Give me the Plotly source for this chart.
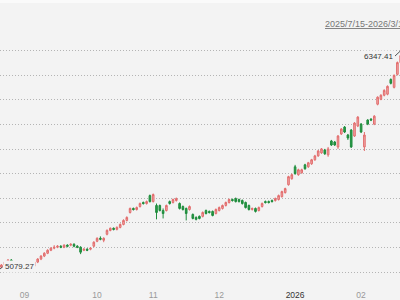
import plotly.graph_objects as go

# ---------------- data ----------------
dates = [
    # 2025-08
    "2025-08-18", "2025-08-19", "2025-08-20", "2025-08-21", "2025-08-22",
    "2025-08-25", "2025-08-26", "2025-08-27", "2025-08-28", "2025-08-29",
    # 2025-09
    "2025-09-01", "2025-09-02", "2025-09-03", "2025-09-04", "2025-09-05",
    "2025-09-08", "2025-09-09", "2025-09-10", "2025-09-11", "2025-09-12",
    "2025-09-15", "2025-09-16", "2025-09-17", "2025-09-18", "2025-09-19",
    "2025-09-22", "2025-09-23", "2025-09-24", "2025-09-25", "2025-09-26",
    "2025-09-29", "2025-09-30",
    # 2025-10
    "2025-10-09", "2025-10-10", "2025-10-13", "2025-10-14", "2025-10-15",
    "2025-10-16", "2025-10-17", "2025-10-20", "2025-10-21", "2025-10-22",
    "2025-10-23", "2025-10-24", "2025-10-27", "2025-10-28", "2025-10-29",
    "2025-10-30", "2025-10-31",
    # 2025-11
    "2025-11-03", "2025-11-04", "2025-11-05", "2025-11-06", "2025-11-07",
    "2025-11-10", "2025-11-11", "2025-11-12", "2025-11-13", "2025-11-14",
    "2025-11-17", "2025-11-18", "2025-11-19", "2025-11-20", "2025-11-21",
    "2025-11-24", "2025-11-25", "2025-11-26", "2025-11-27", "2025-11-28",
    # 2025-12
    "2025-12-01", "2025-12-02", "2025-12-03", "2025-12-04", "2025-12-05",
    "2025-12-08", "2025-12-09", "2025-12-10", "2025-12-11", "2025-12-12",
    "2025-12-15", "2025-12-16", "2025-12-17", "2025-12-18", "2025-12-19",
    "2025-12-22", "2025-12-23", "2025-12-24", "2025-12-25", "2025-12-26",
    "2025-12-29", "2025-12-30", "2025-12-31",
    # 2026-01
    "2026-01-05", "2026-01-06", "2026-01-07", "2026-01-08", "2026-01-09",
    "2026-01-12", "2026-01-13", "2026-01-14", "2026-01-15", "2026-01-16",
    "2026-01-19", "2026-01-20", "2026-01-21", "2026-01-22", "2026-01-23",
    "2026-01-26", "2026-01-27", "2026-01-28", "2026-01-29", "2026-01-30",
    # 2026-02
    "2026-02-02", "2026-02-03", "2026-02-04", "2026-02-05", "2026-02-06",
    "2026-02-09", "2026-02-10", "2026-02-11", "2026-02-12", "2026-02-13",
    "2026-02-24", "2026-02-25", "2026-02-26", "2026-02-27",
    # 2026-03
    "2026-03-02", "2026-03-03", "2026-03-04", "2026-03-05", "2026-03-06",
    "2026-03-09", "2026-03-10", "2026-03-11", "2026-03-12", "2026-03-13",
]

opens = [
    5121, 5104, 5093, 5098, 5110, 5127, 5138, 5127, 5104, 5121,
    5115, 5121, 5104, 5104, 5127, 5144, 5161, 5177, 5194, 5206, 5211, 5217,
    5211, 5223, 5223, 5228, 5217, 5211, 5194, 5200, 5200, 5217,
    5245, 5262, 5251, 5285, 5307, 5319, 5313, 5324, 5341, 5364, 5409, 5432,
    5426, 5443, 5466, 5460, 5505,
    5471, 5449, 5449, 5420, 5420, 5471, 5466, 5477, 5460, 5443, 5432, 5426,
    5398, 5381, 5387, 5387, 5420, 5415, 5415, 5403,
    5420, 5432, 5449, 5466, 5483, 5488, 5483, 5477, 5466, 5449, 5426, 5432,
    5420, 5443, 5471, 5471, 5477, 5477, 5483, 5499, 5522, 5567, 5601,
    5669, 5624, 5635, 5680, 5669, 5686, 5709, 5731, 5748, 5765, 5737, 5816,
    5810, 5782, 5856, 5895, 5850, 5878, 5844, 5901,
    5912, 5782, 5935, 5940, 5912, 6025, 6053, 6076, 6082, 6166, 6121, 6195,
    6262, 6302,
    6330, 6291, 6268, 6279, 6296, 6268, 6245, 6262, 6279, 6257,
]

highs = [
    5127, 5110, 5110, 5115, 5132, 5144, 5144, 5132, 5127, 5127,
    5127, 5127, 5115, 5132, 5149, 5166, 5183, 5200, 5211, 5223, 5223, 5223,
    5228, 5228, 5234, 5234, 5223, 5217, 5206, 5206, 5211, 5245,
    5268, 5273, 5268, 5313, 5324, 5324, 5330, 5347, 5370, 5387, 5437, 5437,
    5443, 5466, 5471, 5477, 5511,
    5517, 5460, 5454, 5432, 5454, 5477, 5488, 5494, 5466, 5449, 5437, 5449,
    5403, 5387, 5392, 5415, 5426, 5420, 5420, 5432,
    5443, 5454, 5471, 5488, 5488, 5494, 5488, 5483, 5471, 5454, 5437, 5437,
    5443, 5466, 5477, 5477, 5483, 5494, 5511, 5533, 5550, 5618, 5630,
    5680, 5658, 5658, 5686, 5697, 5714, 5737, 5765, 5776, 5771, 5782, 5822,
    5816, 5850, 5889, 5901, 5856, 5884, 5923, 5957,
    5918, 5867, 5940, 5946, 5963, 6070, 6082, 6110, 6132, 6172, 6195, 6268,
    6308, 6347.41,
    6336, 6302, 6291, 6308, 6308, 6279, 6268, 6291, 6285, 6274,
]

lows = [
    5093, 5087, 5079.27, 5093, 5104, 5121, 5121, 5098, 5098, 5110,
    5110, 5098, 5093, 5098, 5121, 5138, 5155, 5172, 5189, 5200, 5206, 5206,
    5206, 5211, 5217, 5211, 5206, 5172, 5189, 5189, 5194, 5211,
    5240, 5251, 5240, 5279, 5302, 5307, 5307, 5319, 5336, 5358, 5403, 5420,
    5420, 5437, 5454, 5454, 5466,
    5466, 5370, 5415, 5375, 5415, 5454, 5460, 5471, 5426, 5420, 5364, 5420,
    5370, 5364, 5370, 5381, 5398, 5403, 5387, 5398,
    5415, 5426, 5443, 5460, 5471, 5466, 5466, 5454, 5432, 5420, 5420, 5409,
    5415, 5437, 5460, 5460, 5466, 5471, 5477, 5494, 5517, 5562, 5596,
    5624, 5618, 5630, 5652, 5663, 5680, 5703, 5726, 5743, 5737, 5726, 5788,
    5788, 5771, 5850, 5861, 5822, 5776, 5839, 5895,
    5861, 5759, 5906, 5929, 5906, 6019, 6048, 6070, 6076, 6138, 6115, 6189,
    6257, 6296,
    6285, 6257, 6245, 6274, 6268, 6234, 6240, 6257, 6245, 6251,
]

closes = [
    5104, 5093, 5098, 5110, 5127, 5138, 5127, 5104, 5121, 5115,
    5121, 5104, 5110, 5127, 5144, 5161, 5177, 5194, 5206, 5211, 5217, 5211,
    5223, 5217, 5228, 5217, 5211, 5183, 5200, 5194, 5206, 5240,
    5262, 5257, 5262, 5307, 5319, 5313, 5324, 5341, 5364, 5381, 5432, 5426,
    5437, 5460, 5460, 5471, 5471,
    5511, 5409, 5420, 5403, 5449, 5460, 5483, 5488, 5432, 5426, 5403, 5443,
    5375, 5370, 5375, 5409, 5403, 5409, 5392, 5426,
    5437, 5449, 5466, 5483, 5477, 5471, 5471, 5460, 5437, 5426, 5432, 5415,
    5437, 5460, 5466, 5466, 5471, 5488, 5505, 5528, 5545, 5613, 5624,
    5630, 5652, 5652, 5658, 5692, 5709, 5731, 5759, 5771, 5743, 5771, 5793,
    5793, 5844, 5884, 5867, 5833, 5782, 5918, 5952,
    5867, 5850, 5912, 5935, 5957, 6065, 6076, 6104, 6127, 6144, 6189, 6262,
    6302, 6330,
    6291, 6268, 6279, 6296, 6274, 6245, 6262, 6279, 6257, 6268,
]

month_ticks = ["2025-09-01", "2025-10-09", "2025-11-03", "2025-12-01", "2026-01-05", "2026-02-02"]
month_labels = ["09", "10", "11", "12", "<span style='color:#333'>2026</span>", "02"]
grid_values = [5070, 5210, 5350, 5490, 5630, 5770, 5910, 6050, 6190, 6330]
range_title = "2025/7/15-2026/3/13"

# ---------------- layout constants ----------------
W, H = 400, 300
MB = 20
PLOT_H = H - MB
PX_PER_DAY = 3.3
FIRST_TICK_PX = 24.5
Y_TOP = 6618.2
PTS_PER_PX = 5.65
BG = "#f3f3f3"

idx = list(range(len(dates)))
pos = {d: i for i, d in enumerate(dates)}
sep_idx = pos[month_ticks[0]]
x0 = sep_idx - FIRST_TICK_PX / PX_PER_DAY
x1 = x0 + W / PX_PER_DAY
y1 = Y_TOP
y0 = Y_TOP - PLOT_H * PTS_PER_PX

fig = go.Figure(go.Candlestick(
    x=idx, open=opens, high=highs, low=lows, close=closes,
    text=dates, hoverinfo="skip",
    increasing=dict(line=dict(color="#e26d6d", width=1), fillcolor="#f0a8a8"),
    decreasing=dict(line=dict(color="#1e8c3c", width=1), fillcolor="#2a9a48"),
    whiskerwidth=0,
))

lo_i = lows.index(min(lows))
hi_i = highs.index(max(highs))

fig.add_annotation(
    x=lo_i, y=lows[lo_i], xref="x", yref="y", axref="x", ayref="y",
    ax=lo_i + 4.5 / PX_PER_DAY, ay=lows[lo_i] + 3.5 * PTS_PER_PX,
    text=f"{lows[lo_i]:.2f}", showarrow=True, arrowhead=0, arrowwidth=1,
    arrowcolor="#555", xanchor="left", yanchor="middle",
    font=dict(family="Liberation Sans, Arial", size=8, color="#333"),
    bgcolor=BG, borderpad=1,
)
fig.add_annotation(
    x=hi_i, y=highs[hi_i], xref="x", yref="y", axref="x", ayref="y",
    ax=hi_i - 9 / PX_PER_DAY, ay=highs[hi_i] - 8.5 * PTS_PER_PX,
    text=f"{highs[hi_i]:.2f}", showarrow=True, arrowhead=0, arrowwidth=1,
    arrowcolor="#555", xanchor="right", yanchor="middle",
    font=dict(family="Liberation Sans, Arial", size=8, color="#333"),
    bgcolor=BG, borderpad=1,
)
fig.add_annotation(
    x=323 / W, y=1 - 24 / PLOT_H, xref="paper", yref="paper",
    text=f"<u>{range_title}</u>", showarrow=False,
    xanchor="left", yanchor="middle",
    font=dict(family="Liberation Sans, Arial", size=9, color="#777"),
)

fig.add_shape(type="rect", xref="paper", yref="paper", x0=0, x1=1,
              y0=1 - 3 / PLOT_H, y1=1, fillcolor="#fafafa", line_width=0, layer="below")

fig.update_layout(
    width=W, height=H,
    margin=dict(l=0, r=0, t=0, b=MB, pad=0),
    paper_bgcolor=BG, plot_bgcolor=BG,
    showlegend=False,
    xaxis=dict(
        range=[x0, x1], rangeslider=dict(visible=False),
        tickmode="array", tickvals=[pos[d] for d in month_ticks], ticktext=month_labels,
        showgrid=False, zeroline=False, showline=False,
        ticks="outside", ticklen=9, tickcolor="rgba(0,0,0,0)",
        tickfont=dict(family="Liberation Sans, Arial", size=8.5, color="#999"),
        fixedrange=True,
    ),
    yaxis=dict(
        range=[y0, y1], tickmode="array", tickvals=grid_values,
        showticklabels=False, showgrid=True, gridcolor="#b4b4b4", gridwidth=1,
        griddash="1px,2px", zeroline=False, showline=False, fixedrange=True,
    ),
)

fig.write_html("out.html", config={"displayModeBar": False})
